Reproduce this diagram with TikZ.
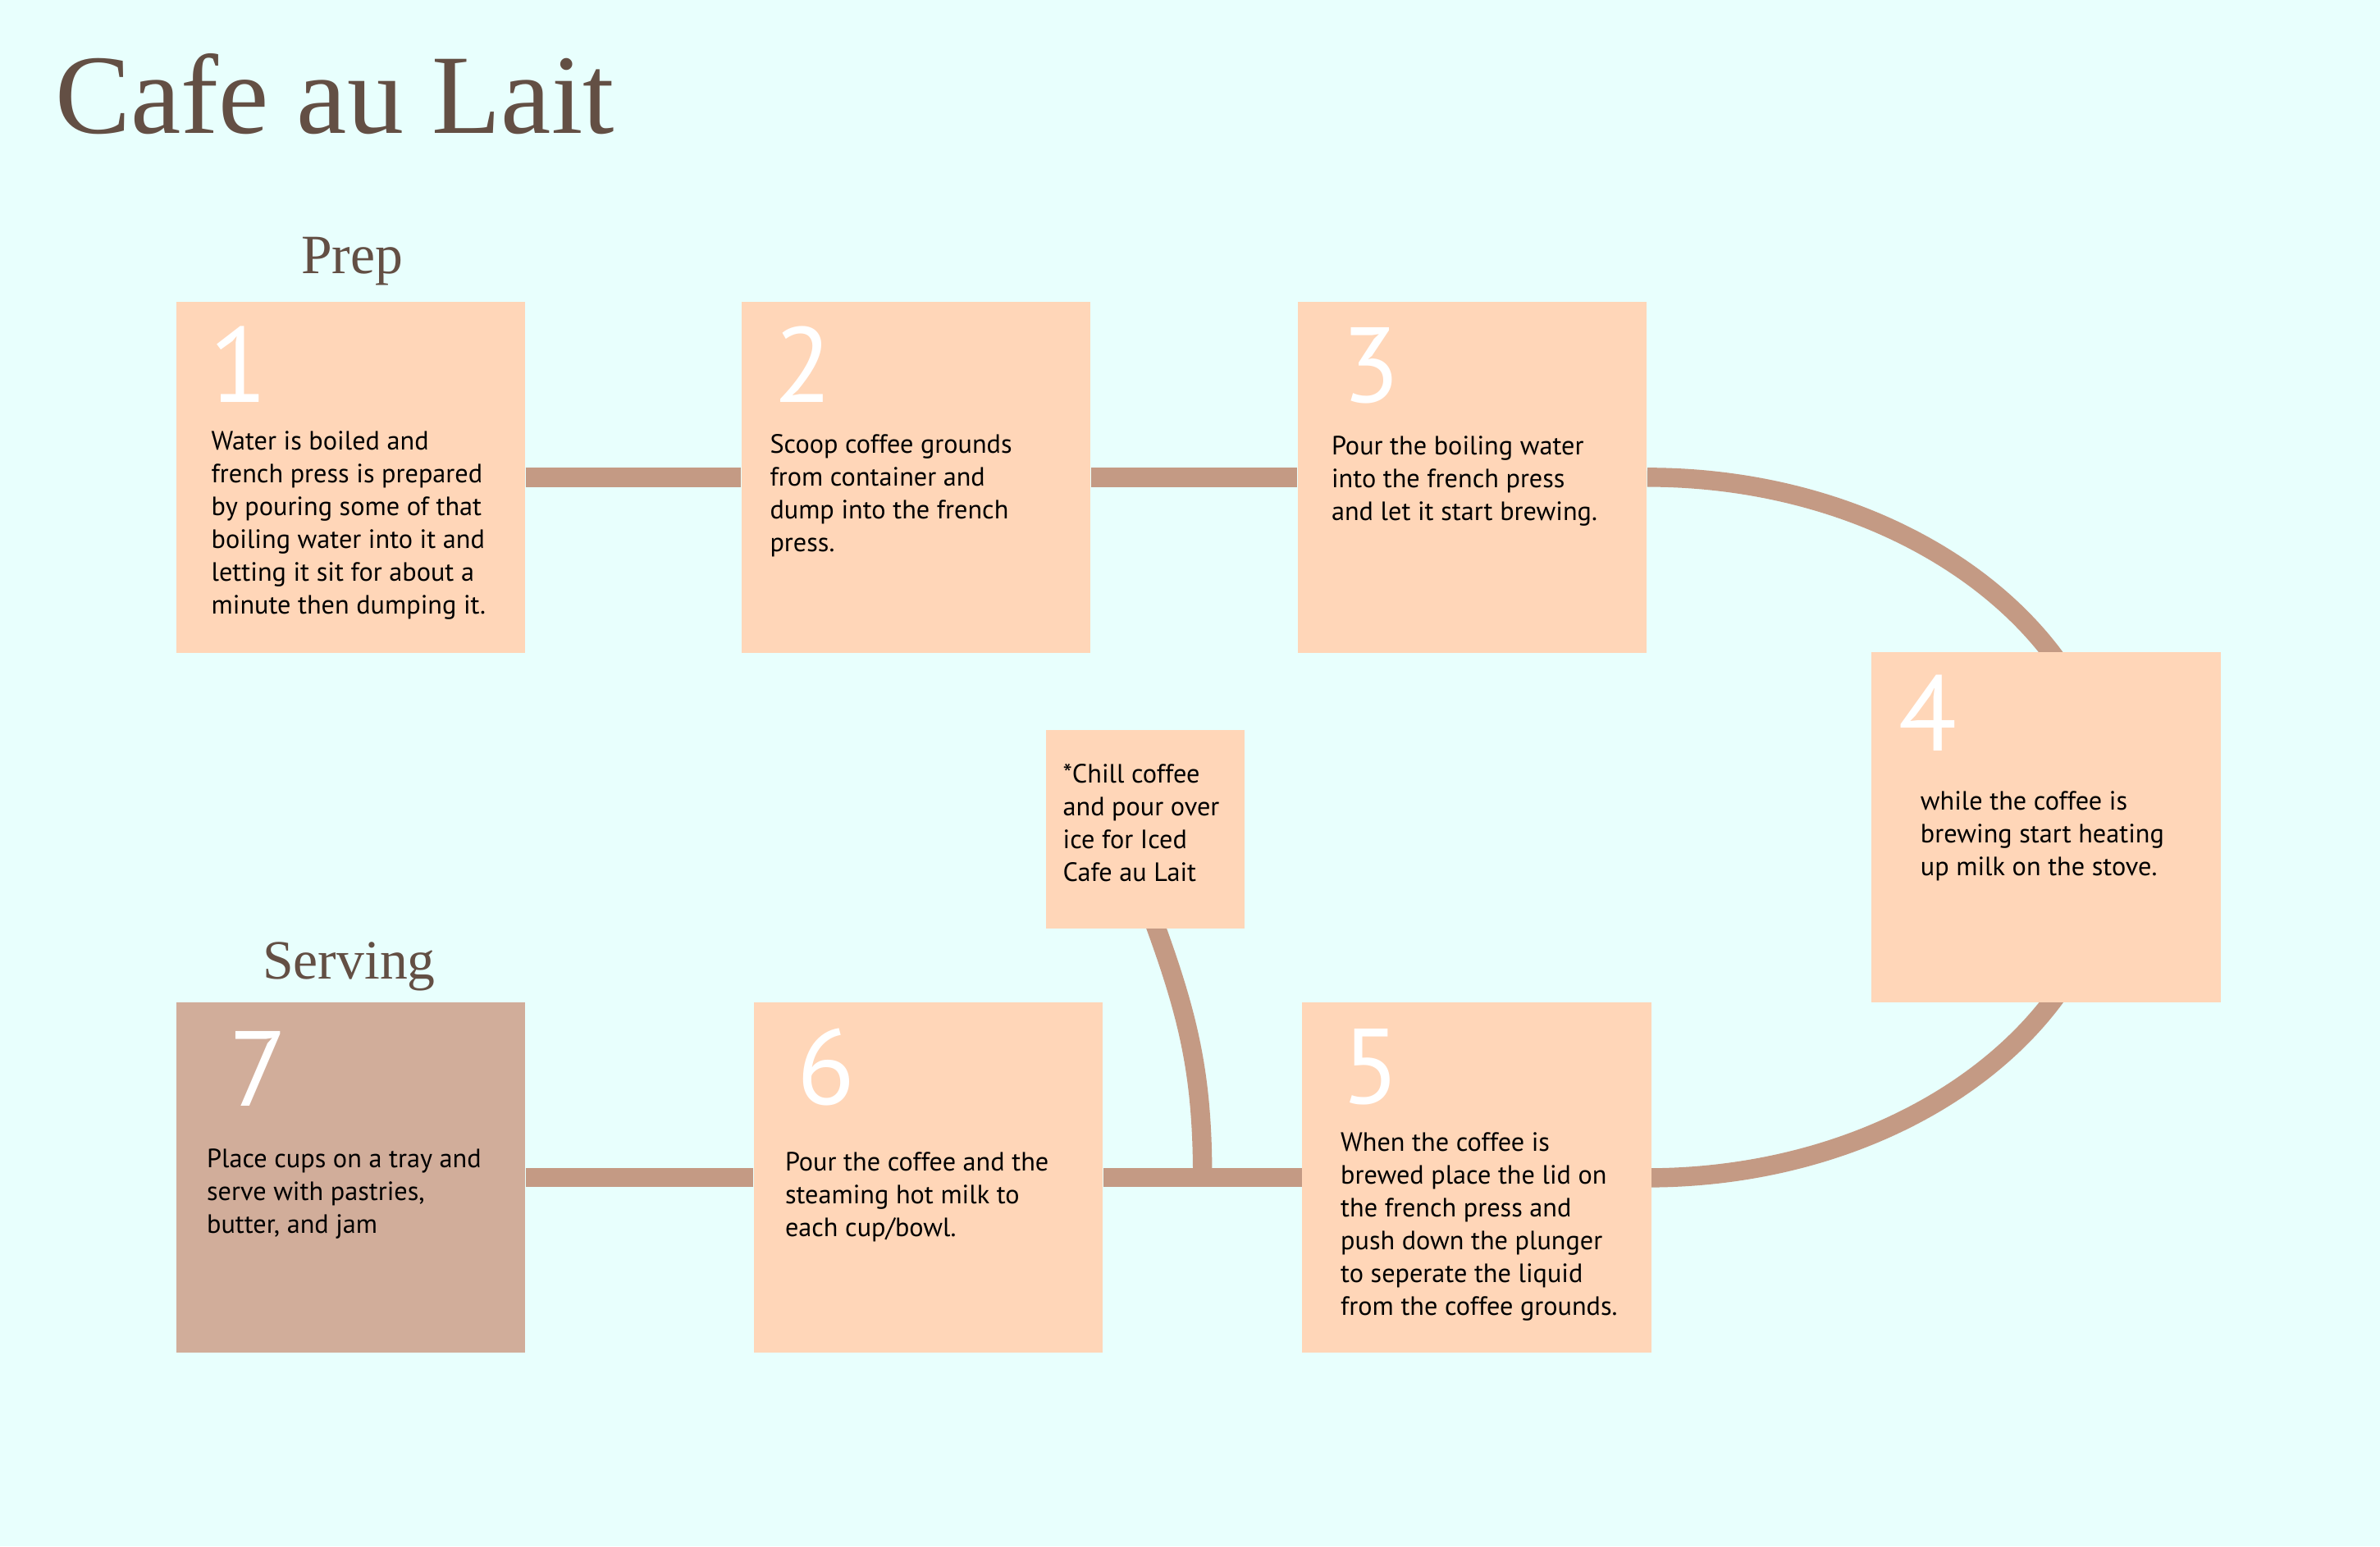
\documentclass[tikz,border=0pt]{standalone}
\usepackage{xcolor}
\usepackage{fontspec}
\setmainfont{Liberation Serif}
\setsansfont{PT Sans}
\usepackage{tikz}
\usetikzlibrary{calc}

\definecolor{paper}{HTML}{E8FFFD}
\definecolor{peach}{HTML}{FFD6B8}
\definecolor{mocha}{HTML}{D1AD9A}
\definecolor{cord}{HTML}{C49A84}
\definecolor{ink}{HTML}{634F44}

\pgfdeclarelayer{paperlayer}
\pgfdeclarelayer{cords}
\pgfsetlayers{paperlayer,cords,main}

\begin{document}
\begin{tikzpicture}[x=0.025cm, y=0.025cm, font=\sffamily,
  card/.style={minimum width=5.75cm, minimum height=5.775cm, inner sep=0pt},
  num/.style={anchor=base, text=white, inner sep=0pt, font=\sffamily\fontsize{50}{50}\selectfont},
  txt/.style={anchor=base west, align=left, inner sep=0pt, font=\sffamily\fontsize{12.4}{15.4}\selectfont},
  head/.style={anchor=base, text=ink, inner sep=0pt, font=\rmfamily\fontsize{26}{30}\selectfont},
  link/.style={draw=cord, line width=9pt}]
\useasboundingbox (0,0) rectangle (1568,-1019);
\begin{pgfonlayer}{paperlayer}
  \fill[paper] (0,0) rectangle (1568,-1019);
\end{pgfonlayer}

\node[anchor=base west, text=ink, inner sep=0pt, font=\rmfamily\fontsize{53}{60}\selectfont] (title) at (36,-88) {Cafe au Lait};
\node[head] (prep) at (232,-180) {Prep};
\node[head] (serving) at (230,-645) {Serving};

% text nodes sit on the baseline of their last line
\foreach \n/\x/\y/\c/\nx/\ny/\tx/\ty/\t in {
  1/231/-314.5/peach/157.5/-265/139/-404.8/{Water is boiled and\\french press is prepared\\by pouring some of that\\boiling water into it and\\letting it sit for about a\\minute then dumping it.},
  2/603.5/-314.5/peach/529/-265/507/-363.5/{Scoop coffee grounds\\from container and\\dump into the french\\press.},
  3/970/-314.5/peach/903/-265/877/-342.8/{Pour the boiling water\\into the french press\\and let it start brewing.},
  4/1348/-545/peach/1270/-495/1265/-576.8/{while the coffee is\\brewing start heating\\up milk on the stove.},
  5/973/-776/peach/903/-727/883/-866.8/{When the coffee is\\brewed place the lid on\\the french press and\\push down the plunger\\to seperate the liquid\\from the coffee grounds.},
  6/611.5/-776/peach/544/-728/517/-814.8/{Pour the coffee and the\\steaming hot milk to\\each cup/bowl.},
  7/231/-776/mocha/170/-729/136/-812.8/{Place cups on a tray and\\serve with pastries,\\butter, and jam}} {
  \node[card, fill=\c] (b\n) at (\x,\y) {};
  \node[num] (n\n) at (\nx,\ny) {\n};
  \node[txt] (t\n) at (\tx,\ty) {\t};
}

% side note for the iced version
\node[minimum width=3.275cm, minimum height=3.275cm, inner sep=0pt, fill=peach] (note) at (754.5,-546.5) {};
\node[txt] (notetext) at (700,-581) {*Chill coffee\\and pour over\\ice for Iced\\Cafe au Lait};

\begin{pgfonlayer}{cords}
  \draw[link] (b1) -- (b2) (b2) -- (b3);
  \draw[link] (b3.east) arc[start angle=90, end angle=-90, x radius=7.675cm, y radius=5.76875cm];
  \draw[link] (b5) -- (b6) (b6) -- (b7);
  \coordinate (join) at ($(b6.east)!0.5!(b5.west)$);
  \draw[link] ($(note.south)+(6.5,3)$) to[out=-70, in=90] (join);
\end{pgfonlayer}
\end{tikzpicture}
\end{document}
